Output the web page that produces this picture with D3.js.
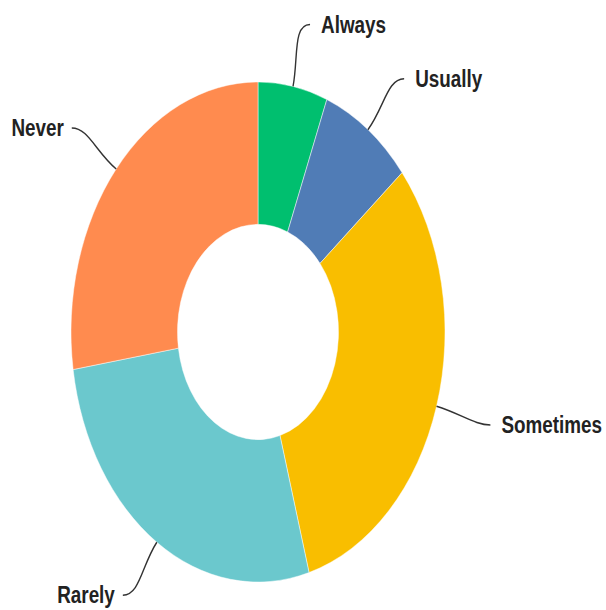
<!DOCTYPE html>
<html>
<head>
<meta charset="utf-8">
<script src="https://cdn.jsdelivr.net/npm/d3@7"></script>
<style>
  html, body { margin: 0; padding: 0; background: #fff; }
  svg { display: block; }
  .lbl { font-family: "Liberation Sans", Arial, sans-serif; font-weight: bold; font-size: 23px; fill: #222; }
</style>
</head>
<body>
<svg id="chart" width="606" height="610"></svg>
<script>
const categories = ["Always", "Usually", "Sometimes", "Rarely", "Never"];
const values = [6.0, 8.0, 31.6, 27.0, 27.4];
const colors = ["#00BF6F", "#507CB6", "#F9BE00", "#6BC8CD", "#FF8B4F"];

const W = 606, H = 610;
const cx = 258, cy = 332;
const R = 187, r = 80.5;   // horizontal radii
const sy = 1.337;          // vertical stretch of the donut

const svg = d3.select("#chart");
const data = categories.map((c, i) => ({ cat: c, value: values[i], color: colors[i] }));

const pie = d3.pie().sort(null).value(d => d.value);
const arcs = pie(data);
const arc = d3.arc().innerRadius(r).outerRadius(R);

const g = svg.append("g").attr("transform", `translate(${cx},${cy}) scale(1,${sy})`);
g.selectAll("path.slice")
  .data(arcs)
  .enter().append("path")
  .attr("class", "slice")
  .attr("d", arc)
  .attr("fill", d => d.data.color)
  .attr("stroke", "#fff")
  .attr("stroke-width", 0.4);

// leader lines + labels (screen coords)
const la = 235, lb = 313; // label ellipse radii
const lines = svg.append("g");
arcs.forEach(d => {
  const m = (d.startAngle + d.endAngle) / 2;
  const s = Math.sin(m), c = Math.cos(m);
  const right = s >= 0;
  const dir = right ? 1 : -1;
  const x0 = cx + R * s, y0 = cy - R * sy * c;
  const x1 = cx + la * s + dir * 8, y1 = cy - lb * c;
  const k = 0.45 * Math.hypot(x1 - x0, y1 - y0);
  const c1x = x0 + s * k, c1y = y0 - c * k;
  const c2x = x1 - dir * k * 0.6, c2y = y1;
  lines.append("path")
    .attr("d", `M${x0},${y0} C${c1x},${c1y} ${c2x},${c2y} ${x1},${y1}`)
    .attr("fill", "none")
    .attr("stroke", "#333")
    .attr("stroke-width", 1.4);
  const tx = x1 + dir * (right ? 11 : 8);
  svg.append("text")
    .attr("class", "lbl")
    .attr("transform", `translate(${tx},${y1 + 8}) scale(0.82,1)`)
    .attr("text-anchor", right ? "start" : "end")
    .text(d.data.cat);
});
</script>
</body>
</html>
